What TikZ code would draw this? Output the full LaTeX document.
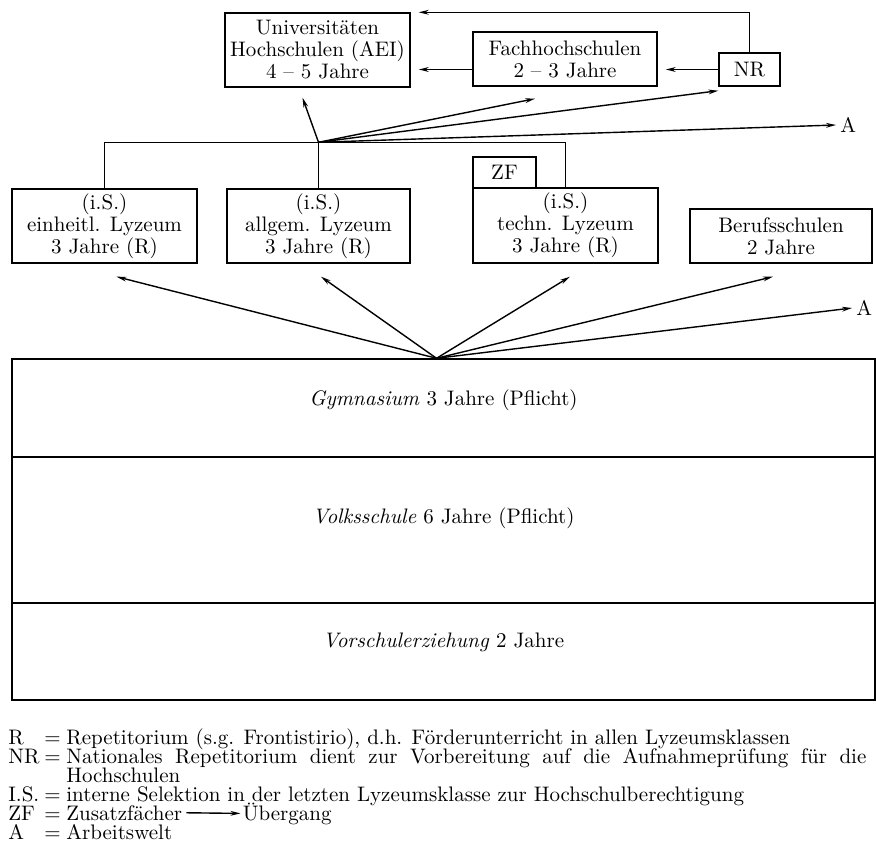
\documentclass[tikz,border=0pt]{standalone}
\usepackage{tikz}
\usetikzlibrary{arrows.meta,calc,positioning}

\begin{document}
\begin{tikzpicture}[x=0.5pt,y=-0.5pt,
  box/.style={draw,line width=0.7pt,align=center,inner sep=0pt,font=\fontsize{10.5}{11}\selectfont},
  row/.style={draw,line width=0.7pt,minimum width=431.5pt,inner sep=0pt},
  txt/.style={font=\fontsize{10.5}{12.5}\selectfont},
  leg/.style={anchor=base west,inner sep=0pt,font=\fontsize{10.5}{9.5}\selectfont},
  arr/.style={line width=0.7pt,-{Stealth[length=5pt,width=2.4pt]}},
  lin/.style={line width=0.7pt}]
\useasboundingbox (0,0) rectangle (876,850);
% hochschulen
\node[box,minimum width=92.5pt,minimum height=37pt] (uni) at (317.5,50) {Universitäten\\Hochschulen (AEI)\\4 -- 5 Jahre};
\node[box,minimum width=92pt,minimum height=27pt] (fach) at (565,59) {Fachhochschulen\\2 -- 3 Jahre};
\node[box,minimum width=30.5pt,minimum height=16.5pt] (nr) at (749.5,69.5) {NR};
\draw[arr,shorten >=4pt] (nr.north) |- (uni.north east);
\draw[arr,shorten >=4pt] (fach.west |- nr.west) -- (uni.east |- nr.west);
\draw[arr,shorten >=4pt] (nr.west) -- (fach.east |- nr.west);
% lyzeen
\node[box,minimum width=92.5pt,minimum height=37pt] (einh) at (104.5,226) {(i.S.)\\einheitl. Lyzeum\\3 Jahre (R)};
\node[box,minimum width=91.5pt,minimum height=37pt] (allg) at (318.5,226) {(i.S.)\\allgem. Lyzeum\\3 Jahre (R)};
\node[box,minimum width=92.5pt,minimum height=37.5pt] (tech) at (565.5,225.5) {(i.S.)\\techn. Lyzeum\\3 Jahre (R)};
\node[box,minimum width=31.5pt,minimum height=15.5pt] (zf) at (504.5,172.5) {ZF};
\node[box,minimum width=91pt,minimum height=27pt] (beruf) at (781,236) {Berufsschulen\\2 Jahre};
\node[txt,anchor=west,inner sep=2pt] (atop) at (836,125) {A};
\coordinate (top) at ($(allg.north)+(0,-46)$);
\draw[lin] (einh.north) |- (top) -| (tech.north);
\draw[lin] (allg.north) -- (top);
\draw[arr] (top) -- ($(uni.south)+(-15,10)$);
\draw[arr] (top) -- ($(fach.south)+(-30,12)$);
\draw[arr] (top) -- ($(nr.south west)+(0,4)$);
\draw[arr] (top) -- (atop.west);
% pflichtschulen
\node[row,minimum height=49pt] (gym) at (443.5,408) {};
\node[row,minimum height=73pt] (volk) at (443.5,530) {};
\node[row,minimum height=48.5pt] (vor) at (443.5,651.5) {};
\node[txt] (gymt) at (443.5,400) {\textit{Gymnasium} 3 Jahre (Pflicht)};
\node[txt] (volkt) at (443.5,518) {\textit{Volksschule} 6 Jahre (Pflicht)};
\node[txt] (vort) at (443.5,642) {\textit{Vorschulerziehung} 2 Jahre};
\node[txt,anchor=west,inner sep=2pt] (abot) at (852,308) {A};
\coordinate (bot) at ($(gym.north)+(-7,0)$);
\draw[arr] (bot) -- ($(einh.south)+(12,13)$);
\draw[arr] (bot) -- ($(allg.south)+(2.5,13)$);
\draw[arr] (bot) -- ($(tech.south)+(4.5,13)$);
\draw[arr] (bot) -- ($(beruf.south)+(-8,13)$);
\draw[arr] (bot) -- (abot.west);
% legende
\node[leg] (lr) at (8,744) {R};
\node[leg] (er) at (44,744) {=};
\node[leg] (tr) at (66,744) {Repetitorium (s.g. Frontistirio), d.h. Förderunterricht in allen Lyzeumsklassen};
\node[leg] (lnr) at (8,763) {NR};
\node[leg] (enr) at (44,763) {=};
\node[leg] (tnr) at (66,763) {\makebox[400pt][s]{Nationales Repetitorium dient zur Vorbereitung auf die Aufnahmeprüfung für die}};
\node[leg] (tnr2) at (66,782) {Hochschulen};
\node[leg] (lis) at (8,801) {I.S.};
\node[leg] (eis) at (44,801) {=};
\node[leg] (tis) at (66,801) {interne Selektion in der letzten Lyzeumsklasse zur Hochschulberechtigung};
\node[leg] (lzf) at (8,820) {ZF};
\node[leg] (ezf) at (44,820) {=};
\node[leg] (tzf) at (66,820) {Zusatzfächer};
\node[leg,base right=30pt of tzf] (tueb) {Übergang};
\draw[arr,shorten <=2pt,shorten >=1pt] (tzf.east) -- (tueb.west);
\node[leg] (la) at (8,839) {A};
\node[leg] (ea) at (44,839) {=};
\node[leg] (ta) at (66,839) {Arbeitswelt};
\end{tikzpicture}
\end{document}
